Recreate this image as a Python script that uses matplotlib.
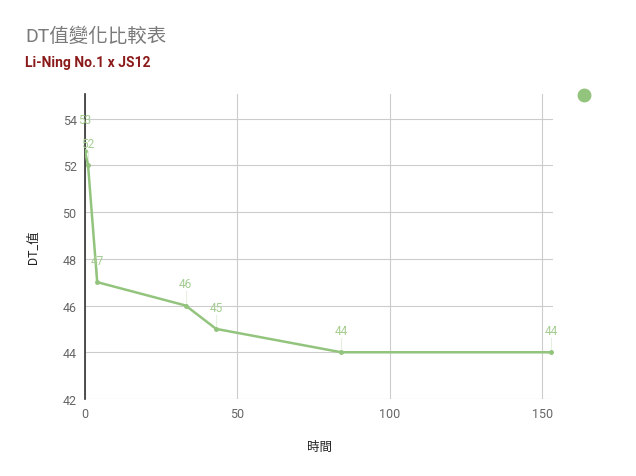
import matplotlib
matplotlib.use("Agg")
import matplotlib.pyplot as plt

plt.rcParams['font.family'] = ['Roboto', 'Noto Sans CJK TC', 'DejaVu Sans']

# data
times = [0, 1, 4, 33, 43, 84, 153]
dt_values = [52.6, 52, 47, 46, 45, 44, 44]
point_labels = ["53", "52", "47", "46", "45", "44", "44"]
x_ticks = [0, 50, 100, 150]
y_ticks = [42, 44, 46, 48, 50, 52, 54]

line_color = "#93c47d"
label_color = "#a4cc91"

fig = plt.figure(figsize=(6.36, 4.77), dpi=100)
ax = fig.add_axes([85 / 636, 1 - 400 / 477, (553 - 85) / 636, (400 - 95) / 477])

ax.plot(times, dt_values, color=line_color, linewidth=1.8, marker='o',
        markersize=2.5, zorder=3)

# the first label is pushed up so it does not collide with the next one
for i, (x, y, lab) in enumerate(zip(times, dt_values, point_labels)):
    off = 18 if i == 0 else 11
    ax.annotate(lab, (x, y), xytext=(0, off), textcoords='offset points',
                ha='center', va='bottom', color=label_color, fontsize=8.5)
    ax.plot([x, x], [y, y + 0.6], color='#e4efe0', linewidth=0.8, zorder=2)

ax.set_xlim(0, 153.5)
ax.set_ylim(42, 55.05)
ax.set_xticks(x_ticks)
ax.set_yticks(y_ticks)
ax.grid(True, color='#cccccc', linewidth=0.8)
ax.set_axisbelow(True)
for s in ['top', 'right', 'bottom']:
    ax.spines[s].set_visible(False)
ax.spines['left'].set_color('#333333')
ax.spines['left'].set_linewidth(1.2)
ax.tick_params(length=0, colors='#666666', labelsize=9, pad=6)

ax.set_xlabel("時間", fontsize=9, color='#222222', labelpad=14)
ax.set_ylabel("DT_值", fontsize=9, color='#222222', labelpad=16)

fig.text(25 / 636, 1 - 37 / 477, "DT值變化比較表", fontsize=14, color='#7a7a7a',
         va='center', ha='left')
fig.text(25 / 636, 1 - 63 / 477, "Li-Ning No.1 x JS12", fontsize=10,
         color='#8b1a1a', fontweight='bold', va='center', ha='left')

# legend marker without text
fig.lines.append(plt.Line2D([584 / 636], [1 - 96 / 477], marker='o',
                            markersize=9, color=line_color,
                            transform=fig.transFigure))

fig.savefig("out.png", dpi=100)
